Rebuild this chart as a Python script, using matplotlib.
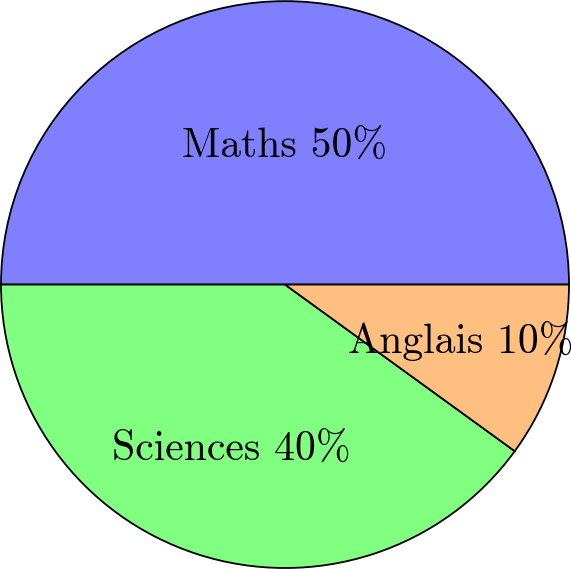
import numpy as np
import matplotlib
matplotlib.use("Agg")
import matplotlib.pyplot as plt

# data
labels = ["Maths", "Sciences", "Anglais"]
percents = [50, 40, 10]
colors = ["#8080ff", "#80ff80", "#ffbf80"]
label_radius = [0.49, 0.61, 0.65]

plt.rcParams["font.family"] = ["cmr10", "DejaVu Serif"]

fig = plt.figure(figsize=(5.71, 5.69), dpi=100)
ax = fig.add_axes([0, 0, 1, 1])

wedges, _ = ax.pie(percents, colors=colors, startangle=0, counterclock=True,
                   radius=1.0, center=(0, 0),
                   wedgeprops=dict(edgecolor="black", linewidth=1.3))

start = 0.0
for lab, p, rr in zip(labels, percents, label_radius):
    mid = np.deg2rad(start + p * 3.6 / 2)
    start += p * 3.6
    ax.text(rr * np.cos(mid), rr * np.sin(mid), f"{lab} {p}%",
            ha="center", va="center", fontsize=30, zorder=10)

px = 284.0
ax.set_xlim(-285 / px, (571 - 285) / px)
ax.set_ylim(-(569 - 284) / px, 284 / px + 0.004)
ax.set_aspect("auto")
ax.axis("off")

fig.savefig("out.png", dpi=100)
